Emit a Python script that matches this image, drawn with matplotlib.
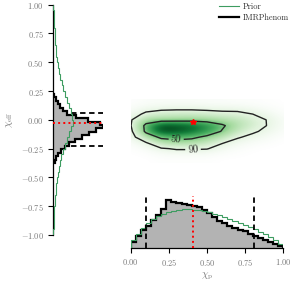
import numpy as np
import matplotlib
matplotlib.use("Agg")
import matplotlib.pyplot as plt
from matplotlib.colors import LinearSegmentedColormap
from matplotlib.ticker import FuncFormatter
from matplotlib.lines import Line2D

plt.rcParams.update({
    "font.family": "serif",
    "font.serif": ["cmr10"],
    "mathtext.fontset": "cm",
    "axes.unicode_minus": True,
})

# ---------------- data ----------------
# chi_eff marginal (posterior), bins of 0.03 from -0.375 to 0.225
eff_edges = np.linspace(-0.375, 0.225, 21)
eff_post = [1.5, 3, 5, 8, 11.5, 16, 22, 29, 36, 42.5,
            49.5, 47, 35, 23, 14, 10, 7, 4.5, 2.5, 1.2]
# chi_eff prior, bins of 0.05 from -1 to 1
eff_prior_edges = np.linspace(-1.0, 1.0, 41)
eff_prior = [0.2, 0.5, 0.8, 1.1, 1.4, 1.8, 2.2, 2.7, 3.3, 4.0,
             4.7, 5.7, 6.9, 8.4, 10.0, 11.8, 13.9, 16.0, 18.1, 19.6,
             19.4, 18.0, 16.2, 14.1, 12.1, 10.3, 8.6, 7.1, 5.9, 4.9,
             4.1, 3.4, 2.8, 2.3, 1.9, 1.5, 1.2, 0.9, 0.6, 0.3]

# chi_p marginal, 30 bins over [0, 1]
p_edges = np.linspace(0.0, 1.0, 31)
p_post = [6, 12, 18, 22, 28, 33, 39, 48, 46, 45,
          44, 43.5, 42.5, 41, 38, 35, 31, 27, 25, 22,
          20, 18, 17, 14, 12, 10, 8, 6, 4, 2]
p_prior = [8, 14, 20, 25, 29, 32, 34, 36, 37.5, 38.5,
           39, 39, 38.5, 38, 37, 36, 34.5, 33, 31, 29,
           27, 25, 23, 21, 19, 16.5, 14, 11, 8, 4]

# 2D density (relative), columns chi_p, rows chi_eff
grid_chi_p = [0.0, 0.1, 0.2, 0.3, 0.4, 0.5, 0.6, 0.7, 0.8, 0.9, 1.0]
grid_chi_eff = [0.15, 0.10, 0.05, 0.0, -0.05, -0.10, -0.15, -0.20, -0.25, -0.30, -0.35]
density = [
    # 0.0  0.1   0.2   0.3   0.4   0.5   0.6   0.7   0.8   0.9   1.0
    [0.01, 0.03, 0.04, 0.04, 0.04, 0.03, 0.03, 0.02, 0.02, 0.01, 0.00],  # 0.15
    [0.03, 0.08, 0.10, 0.11, 0.11, 0.10, 0.09, 0.09, 0.06, 0.03, 0.01],  # 0.10
    [0.06, 0.19, 0.25, 0.26, 0.26, 0.24, 0.21, 0.20, 0.15, 0.08, 0.02],  # 0.05
    [0.13, 0.38, 0.36, 0.38, 0.40, 0.38, 0.34, 0.30, 0.22, 0.14, 0.04],  # 0.00
    [0.14, 0.56, 0.95, 0.92, 0.85, 0.72, 0.54, 0.34, 0.24, 0.14, 0.04],  # -0.05
    [0.10, 0.55, 1.00, 0.95, 0.85, 0.68, 0.48, 0.28, 0.18, 0.10, 0.03],  # -0.10
    [0.06, 0.35, 0.55, 0.60, 0.56, 0.44, 0.32, 0.17, 0.10, 0.05, 0.01],  # -0.15
    [0.03, 0.13, 0.35, 0.38, 0.36, 0.30, 0.16, 0.08, 0.04, 0.02, 0.00],  # -0.20
    [0.01, 0.04, 0.13, 0.17, 0.17, 0.16, 0.07, 0.03, 0.01, 0.00, 0.00],  # -0.25
    [0.00, 0.01, 0.04, 0.05, 0.05, 0.04, 0.02, 0.01, 0.00, 0.00, 0.00],  # -0.30
    [0.00, 0.00, 0.01, 0.01, 0.01, 0.01, 0.00, 0.00, 0.00, 0.00, 0.00],  # -0.35
]
level_90 = 0.15
level_50 = 0.5

eff_bounds = [0.057, -0.225]
eff_marker = -0.03
p_bounds = [0.10, 0.81]
p_marker = 0.41
star = (0.41, -0.02)

yticks = [-1.0, -0.75, -0.5, -0.25, 0.0, 0.25, 0.5, 0.75, 1.0]
xticks = [0.0, 0.25, 0.5, 0.75, 1.0]

# ---------------- style ----------------
GREY_FILL = "#b3b3b3"
GREEN = "#3d9c60"
LABEL = "#7a7a7a"
fmt = FuncFormatter(lambda v, pos: "$%.2f$" % v)

W, H = 306, 281
fig = plt.figure(figsize=(W / 100, H / 100), dpi=100)

ax2 = fig.add_axes([130.7 / W, (H - 235) / H, 152.6 / W, 230.3 / H])
axl = fig.add_axes([53 / W, (H - 235) / H, 50 / W, 230.3 / H])
axb = fig.add_axes([130.7 / W, (H - 248) / H, 152.6 / W, 52 / H])

# ---- 2D panel ----
cmap = LinearSegmentedColormap.from_list(
    "g", ["#ffffff", "#dff2da", "#a6dba0", "#4bb062", "#137d3a", "#00441b"])
dens = np.array(density)
ax2.imshow(dens, extent=[-0.05, 1.05, -0.375, 0.175], origin="upper",
           aspect="auto", cmap=cmap, vmin=0, vmax=1.0,
           interpolation="bicubic", zorder=1)
cs = ax2.contour(grid_chi_p, grid_chi_eff, dens, levels=[level_90, level_50],
                 colors="#222222", linewidths=1.0, zorder=2)
ax2.clabel(cs, fmt={level_90: "90", level_50: "50"},
           manual=[(0.41, -0.262), (0.30, -0.17)], fontsize=7.5, inline=True,
           inline_spacing=2)
ax2.plot([star[0]], [star[1]], marker="*", color="red", ms=4, ls="none", zorder=5)
ax2.set_xlim(0, 1)
ax2.set_ylim(-1, 1)
ax2.axis("off")

# ---- left panel: chi_eff ----
for y in eff_bounds:
    axl.axhline(y, color="k", ls=(0, (3, 2)), lw=1.3, zorder=1)
axl.stairs(eff_post, eff_edges, orientation="horizontal", fill=True,
           color=GREY_FILL, zorder=2)
axl.stairs(eff_post, eff_edges, orientation="horizontal", color="k",
           lw=1.6, zorder=3)
axl.stairs(eff_prior, eff_prior_edges, orientation="horizontal", color=GREEN,
           lw=0.8, zorder=4)
axl.axhline(eff_marker, color="red", ls=":", lw=1.4, zorder=5)
axl.set_xlim(0, 50)
axl.set_ylim(-1, 1)
axl.set_yticks(yticks)
axl.yaxis.set_major_formatter(fmt)
axl.set_xticks([])
for s in ["top", "right", "bottom"]:
    axl.spines[s].set_visible(False)
axl.spines["left"].set_linewidth(0.9)
axl.tick_params(axis="y", direction="out", length=3.5, width=0.8,
                labelsize=6, labelcolor=LABEL, pad=3)
axl.set_ylabel(r"$\chi_{\rm eff}$", fontsize=7.5, color=LABEL, labelpad=4)
axl.patch.set_alpha(0)

# ---- bottom panel: chi_p ----
axb.stairs(p_post, p_edges, fill=True, color=GREY_FILL, zorder=2)
axb.stairs(p_post, p_edges, color="k", lw=1.6, zorder=3)
axb.stairs(p_prior, p_edges, color=GREEN, lw=0.8, zorder=4)
for x in p_bounds:
    axb.axvline(x, color="k", ls=(0, (3, 2)), lw=1.3, zorder=5)
axb.axvline(p_marker, color="red", ls=":", lw=1.4, zorder=6)
axb.set_xlim(0, 1)
axb.set_ylim(0, 52)
axb.set_xticks(xticks)
axb.xaxis.set_major_formatter(fmt)
axb.set_yticks([])
for s in ["top", "right", "left"]:
    axb.spines[s].set_visible(False)
axb.spines["bottom"].set_linewidth(0.9)
axb.tick_params(axis="x", direction="out", length=3.5, width=0.8,
                labelsize=6, labelcolor=LABEL, pad=3)
axb.set_xlabel(r"$\chi_{\rm p}$", fontsize=7.5, color=LABEL, labelpad=2)
axb.patch.set_alpha(0)

# ---- legend ----
handles = [Line2D([], [], color=GREEN, lw=0.8),
           Line2D([], [], color="k", lw=1.6)]
leg = fig.legend(handles, ["Prior", "IMRPhenom"], loc="upper left",
                 bbox_to_anchor=(219 / W, 0.99), frameon=False, fontsize=6,
                 handlelength=2.4, handletextpad=0.5, borderaxespad=0,
                 borderpad=0, labelspacing=0.3)
for t in leg.get_texts():
    t.set_color("#333333")

fig.savefig("out.png", dpi=100)
